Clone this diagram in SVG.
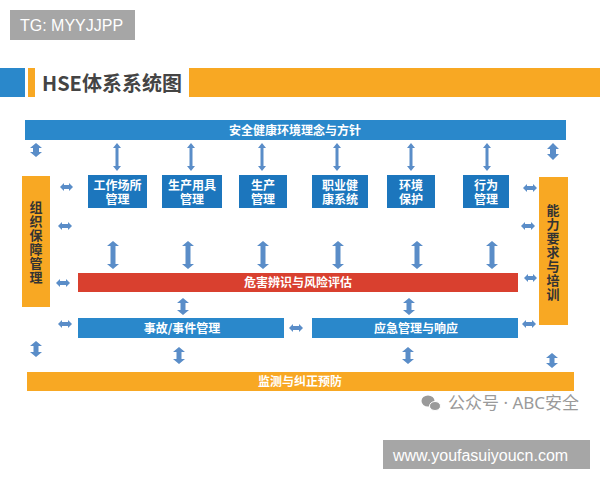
<svg xmlns="http://www.w3.org/2000/svg" width="600" height="480" viewBox="0 0 600 480">
<style>
.bar{fill:#2a88cb}
.node{fill:#1c76bd}
.org{fill:#f8a823}
.red{fill:#d9402f}
.wt{font-family:"Noto Sans CJK SC","Noto Sans",sans-serif;font-weight:bold;fill:#ffffff;font-size:12px;text-anchor:middle}
.nt{font-family:"Liberation Sans","Noto Sans CJK SC",sans-serif;font-weight:bold;fill:#ffffff;font-size:12px;text-anchor:middle}
.dt{font-family:"Noto Sans CJK SC","Noto Sans",sans-serif;font-weight:bold;fill:#333333;font-size:13px;text-anchor:middle;writing-mode:vertical-rl;letter-spacing:1px}
.arr{fill:#5a8dc8}
.wm{font-family:"Liberation Sans","Noto Sans CJK SC",sans-serif;fill:#ffffff;font-size:16px}
</style>
<rect width="600" height="480" fill="#ffffff"/>
<g id="tg-mark">
<rect x="10" y="10" width="125" height="30" fill="#a6a6a6"/>
<text class="wm" x="20" y="31">TG: MYYJJPP</text>
</g>
<g id="title">
<rect x="0" y="68" width="25" height="29" fill="#2a88cb"/>
<rect x="28" y="68" width="7" height="29" class="org"/>
<rect x="189" y="68" width="411" height="29" class="org"/>
<text x="42" y="91" font-family="'Noto Sans CJK SC','Noto Sans',sans-serif" font-weight="bold" font-size="20" fill="#444444">HSE体系系统图</text>
</g>
<g id="policy">
<rect x="25" y="120" width="541" height="20" class="bar"/>
<text class="wt" x="295" y="134.5">安全健康环境理念与方针</text>
</g>
<g id="org-support">
<rect x="22" y="176" width="28" height="131" class="org"/>
<text class="dt" x="36" y="243">组织保障管理</text>
</g>
<g id="competence">
<rect x="539" y="177" width="29" height="148" class="org"/>
<text class="dt" x="553" y="252.5">能力要求与培训</text>
</g>
<g id="n1">
<rect x="88" y="175" width="59" height="33" class="node"/>
<text class="nt"><tspan x="117.5" y="189.5">工作场所</tspan><tspan x="117.5" dy="14">管理</tspan></text>
</g>
<g id="n2">
<rect x="162" y="175" width="60" height="33" class="node"/>
<text class="nt"><tspan x="192" y="189.5">生产用具</tspan><tspan x="192" dy="14">管理</tspan></text>
</g>
<g id="n3">
<rect x="239" y="175" width="48" height="33" class="node"/>
<text class="nt"><tspan x="263" y="189.5">生产</tspan><tspan x="263" dy="14">管理</tspan></text>
</g>
<g id="n4">
<rect x="312" y="175" width="56" height="33" class="node"/>
<text class="nt"><tspan x="340" y="189.5">职业健</tspan><tspan x="340" dy="14">康系统</tspan></text>
</g>
<g id="n5">
<rect x="387" y="175" width="48" height="33" class="node"/>
<text class="nt"><tspan x="411" y="189.5">环境</tspan><tspan x="411" dy="14">保护</tspan></text>
</g>
<g id="n6">
<rect x="463" y="175" width="46" height="33" class="node"/>
<text class="nt"><tspan x="486" y="189.5">行为</tspan><tspan x="486" dy="14">管理</tspan></text>
</g>
<g id="hazard">
<rect x="78" y="273" width="440" height="19" class="red"/>
<text class="wt" x="298" y="287">危害辨识与风险评估</text>
</g>
<g id="incident">
<rect x="78" y="318" width="206" height="20" class="bar"/>
<text class="wt" x="182" y="332.5">事故/事件管理</text>
</g>
<g id="emergency">
<rect x="312" y="318" width="206" height="20" class="bar"/>
<text class="wt" x="416" y="332.5">应急管理与响应</text>
</g>
<g id="monitor">
<rect x="27" y="372" width="547" height="19" class="org"/>
<text class="wt" x="300" y="386">监测与纠正预防</text>
</g>
<g id="connectors" class="arr">
<path d="M117,143 L121,148 L118.5,148 L118.5,166 L121,166 L117,171 L113,166 L115.5,166 L115.5,148 L113,148 Z"/>
<path d="M191,143 L195,148 L192.5,148 L192.5,166 L195,166 L191,171 L187,166 L189.5,166 L189.5,148 L187,148 Z"/>
<path d="M262,143 L266,148 L263.5,148 L263.5,166 L266,166 L262,171 L258,166 L260.5,166 L260.5,148 L258,148 Z"/>
<path d="M337,143 L341,148 L338.5,148 L338.5,166 L341,166 L337,171 L333,166 L335.5,166 L335.5,148 L333,148 Z"/>
<path d="M411,143 L415,148 L412.5,148 L412.5,166 L415,166 L411,171 L407,166 L409.5,166 L409.5,148 L407,148 Z"/>
<path d="M487,143 L491,148 L488.5,148 L488.5,166 L491,166 L487,171 L483,166 L485.5,166 L485.5,148 L483,148 Z"/>
<path d="M36,143 L42,148 L39,148 L39,152 L42,152 L36,157 L30,152 L33,152 L33,148 L30,148 Z"/>
<path d="M553,143 L559,149 L556,149 L556,154 L559,154 L553,160 L547,154 L550,154 L550,149 L547,149 Z"/>
<path d="M113,241 L119,246 L115.5,246 L115.5,264 L119,264 L113,269 L107,264 L110.5,264 L110.5,246 L107,246 Z"/>
<path d="M188,241 L194,246 L190.5,246 L190.5,264 L194,264 L188,269 L182,264 L185.5,264 L185.5,246 L182,246 Z"/>
<path d="M263,241 L269,246 L265.5,246 L265.5,264 L269,264 L263,269 L257,264 L260.5,264 L260.5,246 L257,246 Z"/>
<path d="M338,241 L344,246 L340.5,246 L340.5,264 L344,264 L338,269 L332,264 L335.5,264 L335.5,246 L332,246 Z"/>
<path d="M417,241 L423,246 L419.5,246 L419.5,264 L423,264 L417,269 L411,264 L414.5,264 L414.5,246 L411,246 Z"/>
<path d="M492,241 L498,246 L494.5,246 L494.5,264 L498,264 L492,269 L486,264 L489.5,264 L489.5,246 L486,246 Z"/>
<path d="M183,298 L189,303 L185.5,303 L185.5,310 L189,310 L183,315 L177,310 L180.5,310 L180.5,303 L177,303 Z"/>
<path d="M409,298 L415,303 L411.5,303 L411.5,310 L415,310 L409,315 L403,310 L406.5,310 L406.5,303 L403,303 Z"/>
<path d="M179,347 L185,352 L181.5,352 L181.5,359 L185,359 L179,364 L173,359 L176.5,359 L176.5,352 L173,352 Z"/>
<path d="M408,347 L414,352 L410.5,352 L410.5,359 L414,359 L408,364 L402,359 L405.5,359 L405.5,352 L402,352 Z"/>
<path d="M36,341 L42,346 L38.5,346 L38.5,352 L42,352 L36,357 L30,352 L33.5,352 L33.5,346 L30,346 Z"/>
<path d="M552,353 L558,358 L554.5,358 L554.5,363 L558,363 L552,368 L546,363 L549.5,363 L549.5,358 L546,358 Z"/>
<path d="M60,187 L64,183 L64,185 L69,185 L69,183 L73,187 L69,191 L69,189 L64,189 L64,191 Z"/>
<path d="M58,226 L62,222 L62,224 L68,224 L68,222 L72,226 L68,230 L68,228 L62,228 L62,230 Z"/>
<path d="M56,283 L60,279 L60,281 L66,281 L66,279 L70,283 L66,287 L66,285 L60,285 L60,287 Z"/>
<path d="M58,324 L62,320 L62,322 L68,322 L68,320 L72,324 L68,328 L68,326 L62,326 L62,328 Z"/>
<path d="M523,188 L527,184 L527,186 L533,186 L533,184 L537,188 L533,192 L533,190 L527,190 L527,192 Z"/>
<path d="M521,226 L525,222 L525,224 L531,224 L531,222 L535,226 L531,230 L531,228 L525,228 L525,230 Z"/>
<path d="M524,278 L528,274 L528,276 L533,276 L533,274 L537,278 L533,282 L533,280 L528,280 L528,282 Z"/>
<path d="M522,324 L526,320 L526,322 L532,322 L532,320 L536,324 L532,328 L532,326 L526,326 L526,328 Z"/>
<path d="M289,328 L293,324 L293,326 L299,326 L299,324 L303,328 L299,332 L299,330 L293,330 L293,332 Z"/>
</g>
<g id="wechat-mark">
<ellipse cx="428" cy="401" rx="6.5" ry="5.5" fill="#9a9a9a"/>
<ellipse cx="435" cy="406" rx="5.5" ry="4.5" fill="#9a9a9a" stroke="#ffffff" stroke-width="1"/>
<text x="448" y="409" font-family="'Noto Sans','Noto Sans CJK SC',sans-serif" font-size="17" fill="#9a9a9a">公众号 · ABC安全</text>
</g>
<g id="url-mark">
<rect x="383" y="440" width="207" height="29" fill="#a6a6a6"/>
<text class="wm" x="393" y="461" font-size="17">www.youfasuiyoucn.com</text>
</g>
</svg>
